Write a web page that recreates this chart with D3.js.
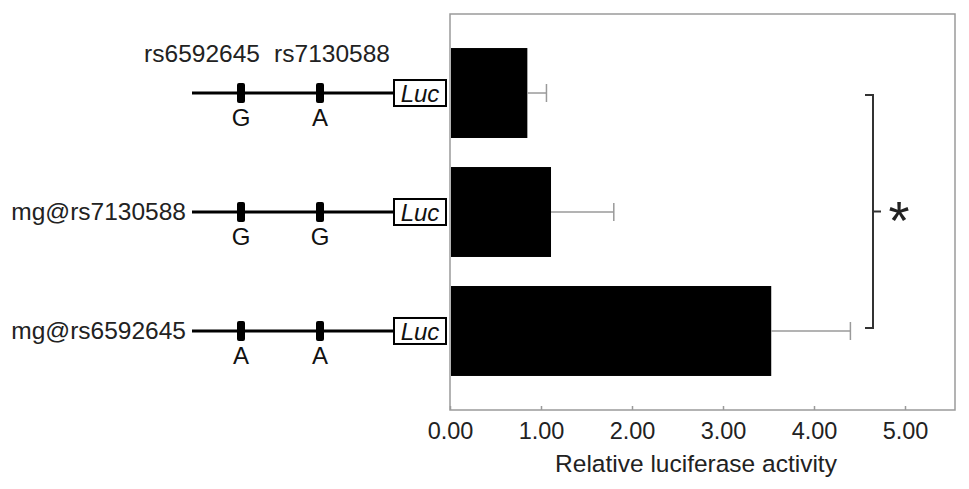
<!DOCTYPE html>
<html><head><meta charset="utf-8">
<script src="https://cdn.jsdelivr.net/npm/d3@7"></script>
<style>body{margin:0;background:#fff}svg{display:block}text{font-family:"Liberation Sans",Arial,sans-serif}</style>
</head><body>
<script>
const constructs = ["wt", "mg@rs7130588", "mg@rs6592645"];
const rowLabels = ["", "mg@rs7130588", "mg@rs6592645"];
const allele1 = ["G", "G", "A"];
const allele2 = ["A", "G", "A"];
const values = [0.85, 1.11, 3.53];
const errors = [0.21, 0.69, 0.87];
const ticks = [0, 1, 2, 3, 4, 5];
const snpNames = ["rs6592645", "rs7130588"];
const xTitle = "Relative luciferase activity";

const W = 969, H = 489;
const svg = d3.select("body").append("svg").attr("width", W).attr("height", H);
const L = 450, R = 955, T = 14, B = 410;
const x = d3.scaleLinear().domain([0, 5]).range([L, 905]);
const y = d3.scaleBand().domain(constructs).range([T, B]).paddingInner(0.244).paddingOuter(0.286);
const grey = "#9a9a9a";

// frame
svg.append("rect").attr("x", L).attr("y", T).attr("width", R - L).attr("height", B - T)
  .attr("fill", "none").attr("stroke", grey).attr("stroke-width", 1.5);

// axis
const ax = svg.append("g").attr("transform", `translate(0,${B})`)
  .call(d3.axisBottom(x).tickValues(ticks).tickFormat(d3.format(".2f")).tickSizeInner(-4).tickSizeOuter(0).tickPadding(12));
ax.select(".domain").remove();
ax.selectAll(".tick line").attr("stroke", grey).attr("stroke-width", 1.5);
ax.selectAll(".tick text").attr("font-size", 23.5).attr("fill", "#222").attr("font-family", "Liberation Sans, Arial, sans-serif");
svg.append("text").attr("x", 696).attr("y", 472).attr("text-anchor", "middle")
  .attr("font-size", 24.5).attr("fill", "#222").text(xTitle);

// bars
svg.selectAll(".bar").data(constructs).join("rect")
  .attr("x", L + 1).attr("y", d => y(d)).attr("height", y.bandwidth())
  .attr("width", (d, i) => x(values[i]) - L - 1).attr("fill", "#000");

// error bars
constructs.forEach((c, i) => {
  const cy = y(c) + y.bandwidth() / 2;
  const x0 = x(values[i]), x1 = x(values[i] + errors[i]);
  svg.append("line").attr("x1", x0).attr("x2", x1).attr("y1", cy).attr("y2", cy)
    .attr("stroke", grey).attr("stroke-width", 1.5);
  svg.append("line").attr("x1", x1).attr("x2", x1).attr("y1", cy - 9).attr("y2", cy + 9)
    .attr("stroke", grey).attr("stroke-width", 1.5);
});

// schematic
const snpX = [241, 320];
constructs.forEach((c, i) => {
  const cy = y(c) + y.bandwidth() / 2;
  svg.append("line").attr("x1", 192).attr("x2", 394).attr("y1", cy).attr("y2", cy)
    .attr("stroke", "#000").attr("stroke-width", 3);
  snpX.forEach((sx, j) => {
    svg.append("rect").attr("x", sx - 4).attr("y", cy - 10).attr("width", 8).attr("height", 20)
      .attr("rx", 2).attr("fill", "#000");
    svg.append("text").attr("x", sx).attr("y", cy + 33).attr("text-anchor", "middle")
      .attr("font-size", 24).attr("fill", "#111").text(j === 0 ? allele1[i] : allele2[i]);
  });
  svg.append("rect").attr("x", 394).attr("y", cy - 13).attr("width", 52).attr("height", 26)
    .attr("fill", "#fff").attr("stroke", "#000").attr("stroke-width", 2);
  svg.append("text").attr("x", 420).attr("y", cy + 9).attr("text-anchor", "middle")
    .attr("font-size", 24).attr("font-style", "italic").attr("fill", "#111").text("Luc");
  if (rowLabels[i]) {
    svg.append("text").attr("x", 186).attr("y", cy + 8).attr("text-anchor", "end")
      .attr("font-size", 24.5).attr("fill", "#222").text(rowLabels[i]);
  }
});
svg.append("text").attr("x", 202).attr("y", 62).attr("text-anchor", "middle")
  .attr("font-size", 24.5).attr("fill", "#222").text(snpNames[0]);
svg.append("text").attr("x", 332).attr("y", 62).attr("text-anchor", "middle")
  .attr("font-size", 24.5).attr("fill", "#222").text(snpNames[1]);

// significance bracket
const yTop = y(constructs[0]) + y.bandwidth() / 2 + 2;
const yBot = y(constructs[2]) + y.bandwidth() / 2 - 3;
const bx = 873;
svg.append("path").attr("d", `M${bx - 8},${yTop} H${bx} V${yBot} H${bx - 8}`)
  .attr("fill", "none").attr("stroke", "#333").attr("stroke-width", 2);
const ym = (yTop + yBot) / 2;
svg.append("line").attr("x1", bx).attr("x2", bx + 8).attr("y1", ym).attr("y2", ym)
  .attr("stroke", "#333").attr("stroke-width", 2);
svg.append("text").attr("x", 899).attr("y", ym + 27).attr("text-anchor", "middle")
  .attr("font-family", "Liberation Serif, Times New Roman, serif").attr("font-size", 54)
  .attr("fill", "#222").text("*");
</script>
</body></html>
